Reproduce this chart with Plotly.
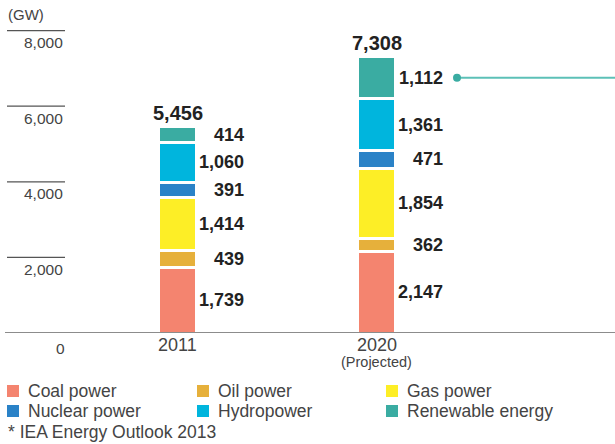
import plotly.graph_objects as go

# ---- data ----
years = ["2011", "2020"]
year_sub = ["", "(Projected)"]
sources = ["Coal power", "Oil power", "Gas power", "Nuclear power", "Hydropower", "Renewable energy"]
coal = [1739, 2147]
oil = [439, 362]
gas = [1414, 1854]
nuclear = [391, 471]
hydro = [1060, 1361]
renewable = [414, 1112]
totals = [5456, 7308]
colors = ["#F4846F", "#E6B03B", "#FDEE26", "#2A82C7", "#00B5DD", "#3AACA2"]
y_ticks = [0, 2000, 4000, 6000, 8000]
y_tick_text = ["0", "2,000", "4,000", "6,000", "8,000"]
footnote = "* IEA Energy Outlook 2013"

series = [coal, oil, gas, nuclear, hydro, renewable]

W, H = 615, 444
FONT = "Liberation Sans, Arial, sans-serif"
TXT = "#444444"
VAL = "#222222"

xpos = [0, 1]
px_per_x = 199.0
x_lo = -177.5 / px_per_x
x_hi = (W - 177.5) / px_per_x
plot_h = 333
y_hi = plot_h / 0.0378

fig = go.Figure()
for name, vals, col in zip(sources, series, colors):
    fig.add_trace(go.Bar(
        x=xpos, y=vals, name=name, width=38 / px_per_x,
        marker=dict(color=col, line=dict(color="white", width=3)),
        showlegend=False, hoverinfo="skip",
    ))

annotations = []
shapes = []

# segment value labels
for i, xp in enumerate(xpos):
    base = 0
    for vals in series:
        v = vals[i]
        annotations.append(dict(
            x=xp + 0.342, y=base + v / 2, xref="x", yref="y",
            text=f"<b>{v:,}</b>", showarrow=False, xanchor="right", yanchor="middle",
            font=dict(family=FONT, size=18, color=VAL),
        ))
        base += v
    # totals
    annotations.append(dict(
        x=xp, y=totals[i], xref="x", yref="y", text=f"<b>{totals[i]:,}</b>",
        showarrow=False, xanchor="center", yanchor="bottom", yshift=1,
        font=dict(family=FONT, size=20, color=VAL),
    ))
    # category labels
    annotations.append(dict(
        x=xp, y=0, xref="x", yref="y", text=years[i], showarrow=False,
        xanchor="center", yanchor="middle", yshift=-11.5,
        font=dict(family=FONT, size=18, color=TXT),
    ))
    if year_sub[i]:
        annotations.append(dict(
            x=xp, y=0, xref="x", yref="y", text=year_sub[i], showarrow=False,
            xanchor="center", yanchor="middle", yshift=-28.5,
            font=dict(family=FONT, size=14.5, color=TXT),
        ))

# y ticks: short lines with labels below
for v, t in zip(y_ticks, y_tick_text):
    if v == 0:
        annotations.append(dict(
            x=60 / W, y=v, xref="paper", yref="y", text=t, showarrow=False,
            xanchor="center", yanchor="middle", yshift=-15,
            font=dict(family=FONT, size=15.5, color=TXT),
        ))
    else:
        shapes.append(dict(type="line", xref="paper", yref="y", x0=7 / W, x1=65 / W,
                           y0=v, y1=v, line=dict(color="#555555", width=1.3)))
        annotations.append(dict(
            x=65 / W, y=v, xref="paper", yref="y", text=t, showarrow=False,
            xanchor="right", yanchor="middle", yshift=-12,
            font=dict(family=FONT, size=15.5, color=TXT),
        ))

# unit label
annotations.append(dict(
    x=6 / W, y=1 - 14 / plot_h, xref="paper", yref="paper", text="(GW)", showarrow=False,
    xanchor="left", yanchor="middle", font=dict(family=FONT, size=15, color=TXT),
))

# baseline
shapes.append(dict(type="line", xref="paper", yref="y", x0=5 / W, x1=1, y0=0, y1=0,
                   line=dict(color="#8C8C8C", width=2), layer="above"))

# pointer line from 2020 renewable segment
ren_mid = sum(s[1] for s in series[:-1]) + renewable[1] / 2
x_dot = xpos[1] + (457 - 376.5) / px_per_x
fig.add_trace(go.Scatter(
    x=[x_dot, x_hi], y=[ren_mid, ren_mid], mode="lines",
    line=dict(color="#5CC0B7", width=2), showlegend=False, hoverinfo="skip",
))
fig.add_trace(go.Scatter(
    x=[x_dot], y=[ren_mid], mode="markers",
    marker=dict(color="#3AACA2", size=8), showlegend=False, hoverinfo="skip",
))

# manual legend
leg_cols = [7, 197, 386]
leg_rows = [391, 411]
for k, (name, col) in enumerate(zip(sources, colors)):
    r, c = divmod(k, 3)
    x0 = leg_cols[c]
    yc = leg_rows[r]
    shapes.append(dict(type="rect", xref="paper", yref="paper",
                       x0=x0 / W, x1=(x0 + 12) / W,
                       y0=1 - (yc + 6) / plot_h, y1=1 - (yc - 6) / plot_h,
                       fillcolor=col, line=dict(width=0)))
    annotations.append(dict(
        x=(x0 + 19) / W, y=1 - yc / plot_h, xref="paper", yref="paper", text=name,
        showarrow=False, xanchor="left", yanchor="middle",
        font=dict(family=FONT, size=17.5, color=TXT),
    ))
annotations.append(dict(
    x=6 / W, y=1 - 432 / plot_h, xref="paper", yref="paper", text=footnote,
    showarrow=False, xanchor="left", yanchor="middle",
    font=dict(family=FONT, size=17.5, color=TXT),
))

fig.update_layout(
    width=W, height=H, margin=dict(l=0, r=0, t=0, b=H - plot_h),
    paper_bgcolor="white", plot_bgcolor="white", barmode="stack",
    xaxis=dict(range=[x_lo, x_hi], visible=False, fixedrange=True),
    yaxis=dict(range=[0, y_hi], visible=False, fixedrange=True),
    shapes=shapes, annotations=annotations, font=dict(family=FONT),
)
fig.write_html(
    "out.html",
    config={"displayModeBar": False},
    post_script="document.body.style.margin='0';document.body.style.overflow='hidden';",
)
